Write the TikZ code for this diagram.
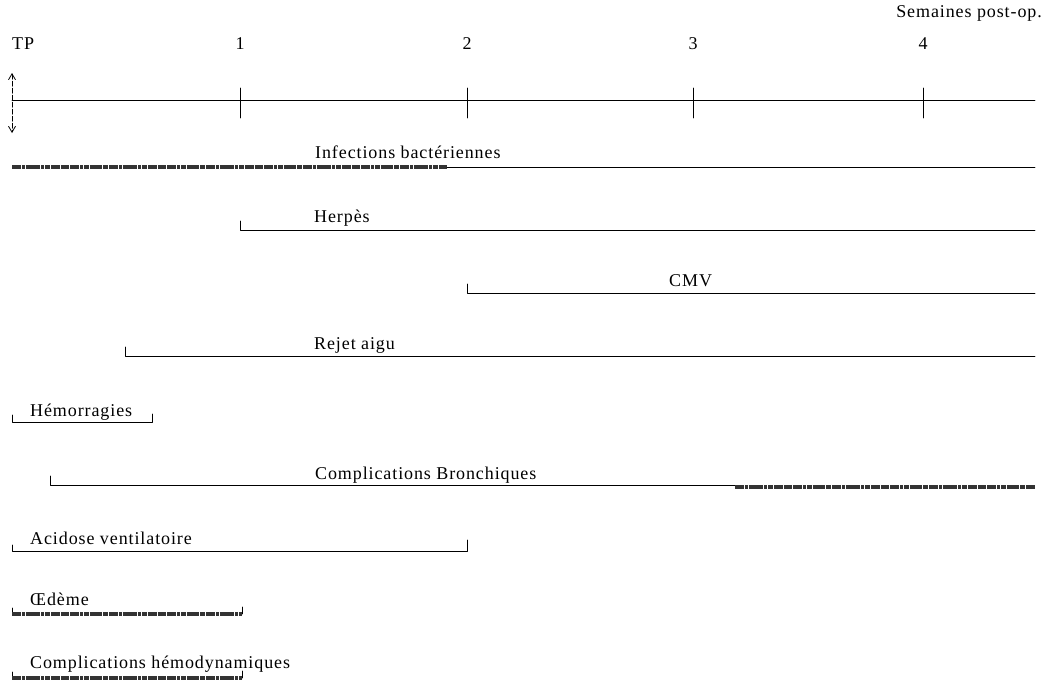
\documentclass[tikz,border=0pt]{standalone}
\usepackage{fontspec}
\setmainfont[LetterSpace=5]{Liberation Serif}
\usetikzlibrary{arrows.meta}
\tikzset{
  bar/.style={line width=0.8pt, line cap=round, line join=round},
  thickbar/.style={line width=3.6pt, draw=black!80, dash pattern=on 9pt off 0.8pt on 3pt off 0.8pt on 5pt off 0.8pt},
  lbl/.style={anchor=base west, inner sep=0pt}
}
\begin{document}
\begin{tikzpicture}[x=1pt,y=-1pt,every node/.style={font=\fontsize{18}{21}\selectfont}]
\useasboundingbox (0,0) rectangle (1043,683);
% axe du temps
\coordinate (tp) at (12,100);
\coordinate (w1) at (240,100);
\coordinate (w2) at (467,100);
\coordinate (w3) at (693,100);
\coordinate (w4) at (923,100);
\coordinate (fin) at (1035,100);
\draw[bar] (tp) -- (fin);
\draw[bar] (w1) ++(0,-12) -- ++(0,30);
\draw[bar] (w2) ++(0,-12) -- ++(0,30);
\draw[bar] (w3) ++(0,-12) -- ++(0,30);
\draw[bar] (w4) ++(0,-12) -- ++(0,30);
\coordinate (tp-haut) at (12,73);
\coordinate (tp-bas) at (12,133);
\draw[bar,{Straight Barb[length=6pt,width=7pt]}-{Straight Barb[length=6pt,width=7pt]},dash pattern=on 5pt off 2pt] (tp-haut) -- (tp-bas);
\node[anchor=west,inner sep=0pt] (l-tp) at (12,44) {TP};
\node[inner sep=0pt] (l-1) at (240,44) {1};
\node[inner sep=0pt] (l-2) at (467,44) {2};
\node[inner sep=0pt] (l-3) at (693,44) {3};
\node[inner sep=0pt] (l-4) at (923,44) {4};
\node[anchor=east,inner sep=0pt] (l-sem) at (1042,13) {Semaines post-op.};
% infections bacteriennes
\coordinate (inf-a) at (12,167);
\coordinate (inf-m) at (447,167);
\coordinate (inf-b) at (1035,167);
\draw[thickbar] (inf-a) -- (inf-m);
\draw[bar] (inf-m) -- (inf-b);
\node[lbl] (l-inf) at (315,158) {Infections bactériennes};
% herpes
\coordinate (her-a) at (240,230);
\coordinate (her-b) at (1035,230);
\draw[bar] (her-a) ++(0,-9) -- (her-a) -- (her-b);
\node[lbl] (l-her) at (314,222) {Herpès};
% CMV
\coordinate (cmv-a) at (467,293);
\coordinate (cmv-b) at (1035,293);
\draw[bar] (cmv-a) ++(0,-9) -- (cmv-a) -- (cmv-b);
\node[lbl] (l-cmv) at (669,286) {CMV};
% rejet aigu
\coordinate (rej-a) at (125,356);
\coordinate (rej-b) at (1035,356);
\draw[bar] (rej-a) ++(0,-9) -- (rej-a) -- (rej-b);
\node[lbl] (l-rej) at (314,349) {Rejet aigu};
% hemorragies
\coordinate (hem-a) at (12,422);
\coordinate (hem-b) at (152,422);
\draw[bar] (hem-a) ++(0,-7) -- (hem-a) -- (hem-b) -- ++(0,-8);
\node[lbl] (l-hem) at (30,416) {Hémorragies};
% complications bronchiques
\coordinate (bro-a) at (50,485);
\coordinate (bro-m) at (735,485);
\coordinate (bro-b) at (1035,487);
\draw[bar] (bro-a) ++(0,-9) -- (bro-a) -- (bro-m);
\draw[thickbar] (bro-m) ++(0,2) -- (bro-b);
\node[lbl] (l-bro) at (315,479) {Complications Bronchiques};
% acidose ventilatoire
\coordinate (aci-a) at (12,551);
\coordinate (aci-b) at (467,551);
\draw[bar] (aci-a) ++(0,-6) -- (aci-a) -- (aci-b) -- ++(0,-11);
\node[lbl] (l-aci) at (30,544) {Acidose ventilatoire};
% oedeme
\coordinate (oed-a) at (12,614);
\coordinate (oed-b) at (242,614);
\draw[bar] (oed-a) ++(0,-6) -- ++(0,6);
\draw[bar] (oed-b) ++(0,-7) -- ++(0,7);
\draw[thickbar] (oed-a) -- (oed-b);
\node[lbl] (l-oed) at (30,605) {Œdème};
% complications hemodynamiques
\coordinate (hmd-a) at (12,678);
\coordinate (hmd-b) at (242,678);
\draw[bar] (hmd-a) ++(0,-6) -- ++(0,6);
\draw[bar] (hmd-b) ++(0,-7) -- ++(0,7);
\draw[thickbar] (hmd-a) -- (hmd-b);
\node[lbl] (l-hmd) at (30,668) {Complications hémodynamiques};
\end{tikzpicture}
\end{document}
